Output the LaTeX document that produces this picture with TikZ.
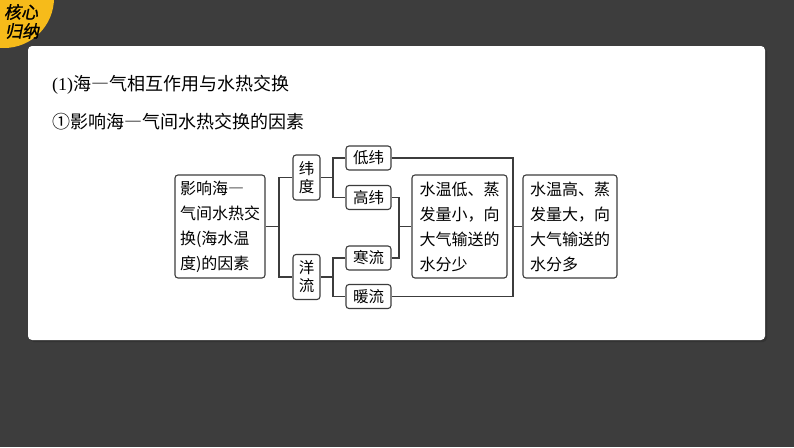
\documentclass[tikz,border=0pt]{standalone}
\usepackage{fontspec}
\setmainfont{Liberation Serif}
\newfontfamily\cjk{Noto Sans CJK SC}
\newfontfamily\cjkfw[RawFeature=+fwid]{Noto Sans CJK SC}
\newfontfamily\cjkslant[FakeSlant=0.2,FakeBold=1.2]{Noto Sans CJK SC}
\usetikzlibrary{calc}
\definecolor{bgdark}{RGB}{61,61,61}
\definecolor{badge}{RGB}{246,187,26}
\definecolor{boxline}{RGB}{60,60,60}
\tikzstyle{box}=[draw=boxline, line width=1.1pt, rounded corners=3pt, fill=white, align=left, inner sep=3pt, font=\cjk\fontsize{16}{25}\selectfont]
\tikzstyle{bigbox}=[box, minimum width=90pt, minimum height=103pt]
\tikzstyle{sbox}=[box, minimum width=45pt, minimum height=24pt, font=\cjk\fontsize{15.5}{18}\selectfont]
\tikzstyle{vbox}=[box, minimum width=27pt, minimum height=45pt, align=center, font=\cjk\fontsize{15.5}{18}\selectfont]
\tikzstyle{link}=[draw=boxline, line width=1.1pt]
\tikzstyle{title}=[anchor=west, inner sep=0pt, font=\cjk\fontsize{18}{18}\selectfont]
\tikzstyle{tag}=[text=black, inner sep=0pt, font=\cjkslant\fontsize{17}{17}\selectfont]

\begin{document}
\begin{tikzpicture}[x=1pt,y=-1pt,node distance=39.5pt]
  \useasboundingbox (0,0) rectangle (794,447);
  \fill[bgdark] (0,0) rectangle (794,447);
  % panel
  \fill[black!80,rounded corners=4pt] (30,48) rectangle (767,342);
  \fill[white,rounded corners=4pt] (28,46) rectangle (765,340);
  % badge
  \begin{scope}
    \clip (0,0) rectangle (794,447);
    \fill[badge] (4,-2) circle (50);
  \end{scope}
  \node[tag] (k1) at (21,12) {核心};
  \node[tag] (k2) at (22,31) {归纳};

  \node[title] (t1) at (52,85) {{\rmfamily(1)}海{\cjkfw —}气相互作用与水热交换};
  \node[title] (t2) at (52,122) {①影响海{\cjkfw —}气间水热交换的因素};

  % boxes
  \node[bigbox] (a) at (220,226.5) {影响海{\cjkfw —}\\气间水热交\\换(海水温\\度)的因素};
  \node[vbox] (b) at (306.5,177.5) {纬\\度};
  \node[vbox] (c) at (306.5,277) {洋\\流};
  \node[sbox] (d) at (368.5,158) {低纬};
  \node[sbox] (e) [below of=d] {高纬};
  \node[sbox] (f) at (368.5,258) {寒流};
  \node[sbox] (g) [below of=f, node distance=38.5pt] {暖流};
  \node[bigbox, minimum width=95pt] (h) at (459.5,226.5) {水温低、蒸\\发量小，向\\大气输送的\\水分少};
  \node[bigbox, minimum width=94pt] (m) at (570,226.5) {水温高、蒸\\发量大，向\\大气输送的\\水分多};

  % links
  \coordinate (j1) at (279,226.5);
  \coordinate (j2) at (333,177.5);
  \coordinate (j3) at (333,277);
  \coordinate (j4) at (399,226.5);
  \coordinate (j5) at (513,226.5);
  \draw[link] (a.east) -- (j1);
  \draw[link] (b.west) -| (j1) |- (c.west);
  \draw[link] (b.east) -- (j2);
  \draw[link] (d.west) -| (j2) |- (e.west);
  \draw[link] (c.east) -- (j3);
  \draw[link] (f.west) -| (j3) |- (g.west);
  \draw[link] (e.east) -| (j4) |- (f.east);
  \draw[link] (j4) -- (h.west);
  \draw[link] (d.east) -| (j5) |- (g.east);
  \draw[link] (j5) -- (m.west);
\end{tikzpicture}
\end{document}
